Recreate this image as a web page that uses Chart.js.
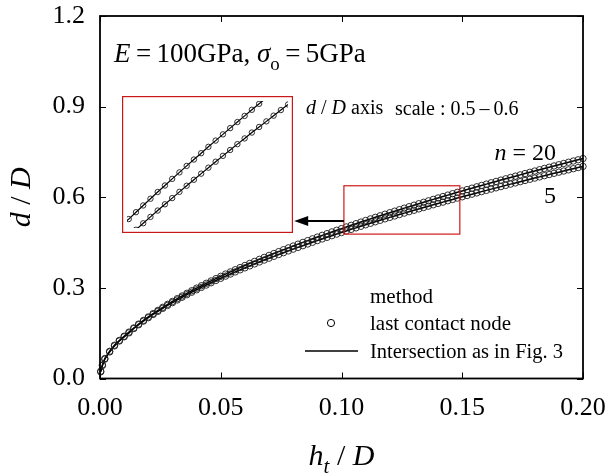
<!DOCTYPE html>
<html><head><meta charset="utf-8">
<script src="https://cdn.jsdelivr.net/npm/chart.js@4/dist/chart.umd.min.js"></script>
<style>
html,body{margin:0;padding:0;background:#fff;}
#wrap{position:relative;width:608px;height:476px;overflow:hidden;}
#main{position:absolute;left:0;top:0;}
#insetBox{position:absolute;}
#insetBox canvas{display:block;}
</style></head><body>
<div id="wrap"><canvas id="main" width="608" height="476"></canvas><div id="insetBox"></div></div>
<script>
// ---- data ----
const hD = [0.0003, 0.001, 0.002, 0.004, 0.006, 0.008, 0.010, 0.012, 0.014, 0.016, 0.018, 0.020,
  0.022, 0.024, 0.026, 0.028, 0.030, 0.032, 0.034, 0.036, 0.038, 0.040,
  0.042, 0.044, 0.046, 0.048, 0.050, 0.052, 0.054, 0.056, 0.058, 0.060,
  0.062, 0.064, 0.066, 0.068, 0.070, 0.072, 0.074, 0.076, 0.078, 0.080,
  0.082, 0.084, 0.086, 0.088, 0.090, 0.092, 0.094, 0.096, 0.098, 0.100,
  0.102, 0.104, 0.106, 0.108, 0.110, 0.112, 0.114, 0.116, 0.118, 0.120,
  0.122, 0.124, 0.126, 0.128, 0.130, 0.132, 0.134, 0.136, 0.138, 0.140,
  0.142, 0.144, 0.146, 0.148, 0.150, 0.152, 0.154, 0.156, 0.158, 0.160,
  0.162, 0.164, 0.166, 0.168, 0.170, 0.172, 0.174, 0.176, 0.178, 0.180,
  0.182, 0.184, 0.186, 0.188, 0.190, 0.192, 0.194, 0.196, 0.198, 0.200];
const dN20 = [0.024, 0.045, 0.066, 0.090, 0.110, 0.126, 0.140, 0.1536, 0.1673, 0.1801, 0.1922, 0.2038,
  0.2148, 0.2254, 0.2356, 0.2455, 0.2550, 0.2643, 0.2733, 0.2821, 0.2906, 0.2990,
  0.3071, 0.3151, 0.3230, 0.3307, 0.3382, 0.3457, 0.3529, 0.3601, 0.3672, 0.3741,
  0.3810, 0.3877, 0.3944, 0.4009, 0.4074, 0.4138, 0.4201, 0.4264, 0.4325, 0.4386,
  0.4447, 0.4506, 0.4565, 0.4624, 0.4682, 0.4739, 0.4795, 0.4852, 0.4907, 0.4962,
  0.5017, 0.5071, 0.5125, 0.5178, 0.5231, 0.5284, 0.5335, 0.5387, 0.5438, 0.5489,
  0.5539, 0.5589, 0.5639, 0.5688, 0.5737, 0.5786, 0.5834, 0.5882, 0.5930, 0.5977,
  0.6024, 0.6071, 0.6118, 0.6164, 0.6210, 0.6255, 0.6301, 0.6346, 0.6391, 0.6435,
  0.6480, 0.6524, 0.6568, 0.6611, 0.6655, 0.6698, 0.6741, 0.6784, 0.6826, 0.6868,
  0.6911, 0.6953, 0.6994, 0.7036, 0.7077, 0.7118, 0.7159, 0.7200, 0.7240, 0.7281];
const dN5 = [0.022, 0.043, 0.064, 0.088, 0.108, 0.124, 0.138, 0.151, 0.1655, 0.1780, 0.1899, 0.2012,
  0.2119, 0.2223, 0.2322, 0.2419, 0.2511, 0.2601, 0.2689, 0.2774, 0.2857, 0.2938,
  0.3016, 0.3094, 0.3170, 0.3245, 0.3317, 0.3389, 0.3459, 0.3528, 0.3597, 0.3663,
  0.3729, 0.3794, 0.3858, 0.3921, 0.3983, 0.4044, 0.4105, 0.4165, 0.4224, 0.4282,
  0.4340, 0.4397, 0.4453, 0.4510, 0.4565, 0.4619, 0.4673, 0.4727, 0.4780, 0.4832,
  0.4884, 0.4936, 0.4987, 0.5038, 0.5088, 0.5138, 0.5187, 0.5236, 0.5285, 0.5333,
  0.5380, 0.5428, 0.5475, 0.5522, 0.5568, 0.5614, 0.5660, 0.5705, 0.5751, 0.5795,
  0.5839, 0.5884, 0.5928, 0.5972, 0.6015, 0.6057, 0.6101, 0.6143, 0.6186, 0.6227,
  0.6269, 0.6311, 0.6352, 0.6393, 0.6434, 0.6474, 0.6515, 0.6555, 0.6595, 0.6634,
  0.6674, 0.6714, 0.6752, 0.6792, 0.6830, 0.6868, 0.6907, 0.6945, 0.6983, 0.7021];
const xTicks = [0, 0.05, 0.10, 0.15, 0.20];
const yTicks = [0, 0.3, 0.6, 0.9, 1.2];
const seriesNames = ["n = 20", "n = 5"];
// annotation frames in data units
const zoomFrame = [0.101, 0.149, 0.478, 0.638];   // x0,x1,y0,y1 (main chart)
const insetFrame = [0.0093, 0.0800, 0.482, 0.936];
const insetRangeX = [0.1035, 0.148];
const insetRangeY = [0.5, 0.6];
const arrowY = 0.521;

const FONT = "'Liberation Serif','Times New Roman',serif";
Chart.defaults.font.family = FONT;
Chart.defaults.color = '#000';
function fnt(size, italic){ return (italic ? 'italic ' : '') + size + 'px ' + FONT; }
function rich(ctx, parts, x, y, align, size){
  let w = 0;
  parts.forEach(p => { ctx.font = fnt(p[2] ? size*0.7 : size, p[1]); w += ctx.measureText(p[0]).width; });
  let cx = align === 'right' ? x - w : (align === 'center' ? x - w/2 : x);
  parts.forEach(p => {
    const s = p[2] ? size*0.7 : size;
    ctx.font = fnt(s, p[1]);
    ctx.fillText(p[0], cx, y + (p[2] ? size*0.28 : 0));
    cx += ctx.measureText(p[0]).width;
  });
}
function pts(ys){ return hD.map((x, i) => ({x: x, y: ys[i]})); }
function makeDatasets(r, lw){
  return [
    {label: seriesNames[0] + ' last contact node', data: pts(dN20), showLine: false, pointStyle: 'circle', pointRadius: r, pointBorderWidth: 0.9, pointBorderColor: '#1a1a1a', pointBackgroundColor: 'rgba(255,255,255,0)', clip: false},
    {label: seriesNames[1] + ' last contact node', data: pts(dN5), showLine: false, pointStyle: 'circle', pointRadius: r, pointBorderWidth: 0.9, pointBorderColor: '#1a1a1a', pointBackgroundColor: 'rgba(255,255,255,0)', clip: false},
    {label: seriesNames[0] + ' intersection', data: pts(dN20), showLine: true, pointRadius: 0, borderColor: '#000', borderWidth: lw, tension: 0, clip: false},
    {label: seriesNames[1] + ' intersection', data: pts(dN5), showLine: true, pointRadius: 0, borderColor: '#000', borderWidth: lw, tension: 0, clip: false}
  ];
}

const decor = {
  id: 'decor',
  afterDraw(chart){
    const ctx = chart.ctx, a = chart.chartArea, xs = chart.scales.x, ys = chart.scales.y;
    ctx.save();
    ctx.strokeStyle = '#000'; ctx.fillStyle = '#000';
    ctx.lineWidth = 1.8;
    ctx.strokeRect(a.left, a.top, a.right - a.left, a.bottom - a.top);
    ctx.lineWidth = 1;
    ctx.beginPath();
    xTicks.forEach(v => { const p = Math.round(xs.getPixelForValue(v)) + 0.5;
      ctx.moveTo(p, a.bottom); ctx.lineTo(p, a.bottom - 6); ctx.moveTo(p, a.top); ctx.lineTo(p, a.top + 6); });
    yTicks.forEach(v => { const p = Math.round(ys.getPixelForValue(v)) + 0.5;
      ctx.moveTo(a.left, p); ctx.lineTo(a.left + 6, p); ctx.moveTo(a.right, p); ctx.lineTo(a.right - 6, p); });
    ctx.stroke();
    // zoom box
    const zx0 = xs.getPixelForValue(zoomFrame[0]), zx1 = xs.getPixelForValue(zoomFrame[1]);
    const zy0 = ys.getPixelForValue(zoomFrame[3]), zy1 = ys.getPixelForValue(zoomFrame[2]);
    ctx.strokeStyle = '#d01818'; ctx.lineWidth = 1.2;
    ctx.strokeRect(zx0, zy0, zx1 - zx0, zy1 - zy0);
    // arrow
    const ay = ys.getPixelForValue(arrowY), tip = xs.getPixelForValue(insetFrame[1]) + 1;
    ctx.strokeStyle = '#000'; ctx.lineWidth = 2;
    ctx.beginPath(); ctx.moveTo(zx0, ay); ctx.lineTo(tip + 10, ay); ctx.stroke();
    ctx.beginPath(); ctx.moveTo(tip, ay); ctx.lineTo(tip + 14, ay - 5); ctx.lineTo(tip + 14, ay + 5); ctx.closePath(); ctx.fill();
    // texts
    ctx.textBaseline = 'alphabetic';
    rich(ctx, [['E', true], ['\u2009=\u2009', false], ['100GPa, ', false], ['\u03c3', true], ['o', false, true], ['\u2009=\u2009', false], ['5GPa', false]], 114, 62, 'left', 27);
    rich(ctx, [['d', true], [' / ', false], ['D', true], [' axis', false]], 306, 114, 'left', 20);
    rich(ctx, [['scale : 0.5\u2009\u2013\u20090.6', false]], 395, 115, 'left', 20);
    rich(ctx, [['n', true], [' = 20', false]], 556, 160, 'right', 24);
    rich(ctx, [['5', false]], 556, 203, 'right', 24);
    // legend
    rich(ctx, [['method', false]], 370, 303, 'left', 21);
    ctx.lineWidth = 1; ctx.beginPath(); ctx.arc(331, 323, 3.6, 0, Math.PI*2); ctx.stroke();
    rich(ctx, [['last contact node', false]], 370, 330, 'left', 21);
    ctx.lineWidth = 1.5; ctx.beginPath(); ctx.moveTo(305, 351); ctx.lineTo(358, 351); ctx.stroke();
    rich(ctx, [['Intersection as in Fig. 3', false]], 370, 358, 'left', 20.5);
    // axis titles
    rich(ctx, [['h', true], ['t', true, true], [' / ', false], ['D', true]], (a.left + a.right)/2, 465, 'center', 30);
    ctx.translate(30, (a.top + a.bottom)/2); ctx.rotate(-Math.PI/2);
    rich(ctx, [['d', true], [' / ', false], ['D', true]], 0, 0, 'center', 30);
    ctx.restore();
  }
};

const main = new Chart(document.getElementById('main'), {
  type: 'scatter',
  data: {datasets: makeDatasets(3.2, 1.5)},
  options: {
    responsive: false, animation: false,
    layout: {padding: {left: 0, top: 16, right: 25, bottom: 0}},
    plugins: {legend: {display: false}, tooltip: {enabled: false}},
    scales: {
      x: {type: 'linear', min: 0, max: 0.2,
          afterBuildTicks: s => { s.ticks = xTicks.map(v => ({value: v})); },
          ticks: {callback: v => Number(v).toFixed(2), font: {size: 26}, color: '#000', padding: 14, maxRotation: 0, autoSkip: false},
          grid: {display: false, drawTicks: false}, border: {display: false},
          afterFit: s => { s.height = 97.5; s.paddingLeft = 0; s.paddingRight = 0; }},
      y: {type: 'linear', min: 0, max: 1.2,
          afterBuildTicks: s => { s.ticks = yTicks.map(v => ({value: v})); },
          ticks: {callback: v => Number(v).toFixed(1), font: {size: 26}, color: '#000', padding: 15, autoSkip: false},
          grid: {display: false, drawTicks: false}, border: {display: false},
          afterFit: s => { s.width = 100; s.paddingTop = 0; s.paddingBottom = 0; }}
    }
  },
  plugins: [decor]
});

// inset (zoom of d/D 0.5-0.6)
const xs = main.scales.x, ys = main.scales.y;
const L = xs.getPixelForValue(insetFrame[0]), R = xs.getPixelForValue(insetFrame[1]);
const T = ys.getPixelForValue(insetFrame[3]), B = ys.getPixelForValue(insetFrame[2]);
const box = document.getElementById('insetBox');
box.style.left = Math.round(L) + 'px'; box.style.top = Math.round(T) + 'px';
const ic = document.createElement('canvas');
ic.width = Math.round(R - L); ic.height = Math.round(B - T);
box.appendChild(ic);
const insetBorder = {
  id: 'insetBorder',
  afterDraw(chart){
    const ctx = chart.ctx;
    ctx.save(); ctx.strokeStyle = '#c81818'; ctx.lineWidth = 1.2;
    ctx.strokeRect(0.6, 0.6, chart.width - 1.2, chart.height - 1.2);
    ctx.restore();
  }
};
const insetDs = makeDatasets(2.7, 1.2).map(d => Object.assign(d, {clip: 0}));
new Chart(ic, {
  type: 'scatter',
  data: {datasets: insetDs},
  options: {
    responsive: false, animation: false,
    layout: {padding: 0},
    plugins: {legend: {display: false}, tooltip: {enabled: false}},
    scales: {
      x: {type: 'linear', display: false, min: insetRangeX[0], max: insetRangeX[1]},
      y: {type: 'linear', display: false, min: insetRangeY[0], max: insetRangeY[1]}
    }
  },
  plugins: [insetBorder]
});
</script>
</body></html>
